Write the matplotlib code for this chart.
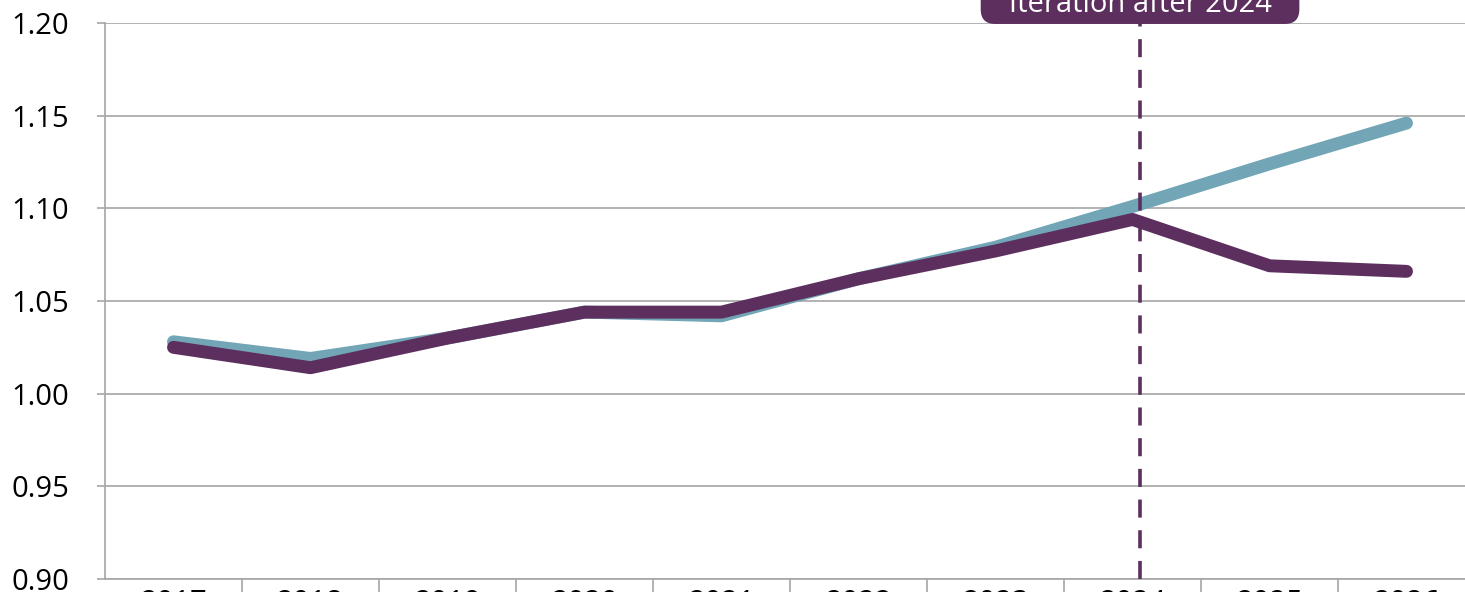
import matplotlib
matplotlib.use('Agg')
import matplotlib.pyplot as plt

# Data
years = [2017, 2018, 2019, 2020, 2021, 2022, 2023, 2024, 2025, 2026]
baseline = [1.028, 1.019, 1.030, 1.044, 1.042, 1.062, 1.079, 1.101, 1.124, 1.146]
iterated = [1.025, 1.014, 1.030, 1.044, 1.044, 1.062, 1.077, 1.094, 1.069, 1.066]
yticks = [0.90, 0.95, 1.00, 1.05, 1.10, 1.15, 1.20]
marker_year = 2024
label_text = 'Iteration after 2024'

teal = '#72A5B5'
purple = '#5C2F5E'
grid_col = '#A6A6A6'

plt.rcParams['font.family'] = ['Open Sans', 'DejaVu Sans']

fig = plt.figure(figsize=(14.65, 5.92), dpi=100)
# axes runs a bit past the right edge, like the cropped original
ax = fig.add_axes([105 / 1465, 13 / 592, 1370 / 1465, 556 / 592])

x = list(range(len(years)))
ax.plot(x, baseline, color=teal, lw=9.3, solid_capstyle='round', solid_joinstyle='round', zorder=3)
ax.plot(x, iterated, color=purple, lw=9.3, solid_capstyle='round', solid_joinstyle='round', zorder=4)

# dashed marker for the iteration year
xm = years.index(marker_year) + 0.055
ax.axvline(xm, color=purple, lw=2.6, dashes=(5, 3.5), zorder=5, clip_on=False)
ax.text(xm, 1 + 11 / 556, '   ' + label_text + '   ', transform=ax.get_xaxis_transform(),
        ha='center', va='baseline', color='white', fontsize=21, clip_on=False,
        bbox=dict(boxstyle='round,pad=0.17,rounding_size=0.5', fc=purple, ec='none'), zorder=6)

ax.set_xlim(-0.5, len(years) - 0.5)
ax.set_ylim(0.90, 1.20)
ax.set_yticks(yticks)
ax.set_yticklabels([f'{v:.2f}' for v in yticks])
ax.set_xticks(x)
ax.set_xticklabels([str(y) for y in years])
ax.set_xticks([i + 0.5 for i in x], minor=True)

ax.grid(axis='y', color=grid_col, lw=1.2)
ax.set_axisbelow(True)
for s in ['top', 'right']:
    ax.spines[s].set_visible(False)
for s in ['left', 'bottom']:
    ax.spines[s].set_color(grid_col)
    ax.spines[s].set_linewidth(1.2)

ax.tick_params(axis='y', length=6, width=1.2, color=grid_col, labelsize=21, pad=20)
ax.tick_params(axis='x', which='major', length=0, labelsize=21, pad=7)
ax.tick_params(axis='x', which='minor', length=25, width=1.2, color=grid_col)

fig.savefig('out.png', dpi=100)
